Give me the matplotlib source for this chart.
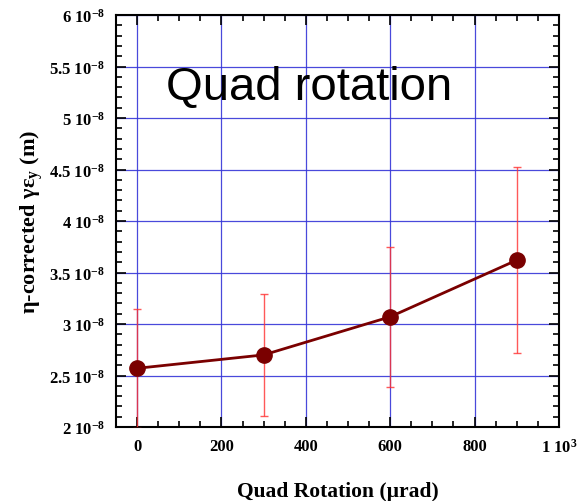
import matplotlib
matplotlib.use("Agg")
import matplotlib.pyplot as plt
from matplotlib.ticker import MultipleLocator, FuncFormatter

plt.rcParams['mathtext.fontset'] = 'custom'
plt.rcParams['mathtext.rm'] = 'Liberation Serif:bold'
plt.rcParams['mathtext.it'] = 'Liberation Serif:bold'
plt.rcParams['mathtext.bf'] = 'Liberation Serif:bold'

# emittance vs quad rotation, y in units of 1e-8 m
rotation = [0, 300, 600, 900]
emittance = [2.57, 2.70, 3.07, 3.62]
emit_err = [0.58, 0.59, 0.68, 0.90]

fig = plt.figure(figsize=(5.78, 5.02), dpi=100)
ax = fig.add_axes([0.2007, 0.1474, 0.7663, 0.8207])

ax.errorbar(rotation, emittance, yerr=emit_err, fmt='none', ecolor='#ff3030',
            elinewidth=1.0, capsize=3, capthick=1.0, alpha=0.8, zorder=3)
ax.plot(rotation, emittance, '-o', color='#7a0000', lw=2, ms=11, zorder=4)

ax.set_xlim(-50, 1000)
ax.set_ylim(2, 6)
ax.xaxis.set_major_locator(MultipleLocator(200))
ax.xaxis.set_minor_locator(MultipleLocator(50))
ax.yaxis.set_major_locator(MultipleLocator(0.5))
ax.yaxis.set_minor_locator(MultipleLocator(0.1))

def xfmt(v, pos):
    if v >= 1000:
        return "1 10$^{3}$"
    return "%d" % v

def yfmt(v, pos):
    return "%g 10$^{-8}$" % v

ax.xaxis.set_major_formatter(FuncFormatter(xfmt))
ax.yaxis.set_major_formatter(FuncFormatter(yfmt))

ax.tick_params(which='both', direction='in', top=True, right=True, width=1.2)
ax.tick_params(which='major', length=7, labelsize=12, pad=8)
ax.tick_params(which='minor', length=4)
for lab in ax.get_xticklabels() + ax.get_yticklabels():
    lab.set_fontfamily('Liberation Serif')
    lab.set_fontweight('bold')
for s in ax.spines.values():
    s.set_linewidth(1.5)

ax.grid(True, which='major', color='#3535d8', lw=0.9, alpha=0.9)
ax.set_axisbelow(True)

ax.text(407, 5.30, "Quad rotation", fontsize=34, family='Liberation Sans',
        ha='center', va='center', zorder=5)

ax.set_xlabel("Quad Rotation (\u00b5rad)", fontsize=15.5, fontweight='bold',
              family='Liberation Serif', labelpad=18)
ax.set_ylabel("\u03b7-corrected \u03b3\u03b5$_{y}$ (m)", fontsize=16, fontweight='bold',
              family='Liberation Serif', labelpad=3)

fig.savefig("out.png", dpi=100)
